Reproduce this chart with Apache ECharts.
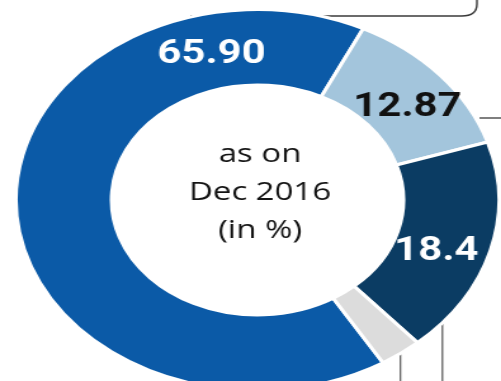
<!DOCTYPE html>
<html>
<head>
<meta charset="utf-8">
<script src="https://cdn.jsdelivr.net/npm/echarts@6/dist/echarts.min.js"></script>
<style>
  html, body { margin: 0; padding: 0; background: #ffffff; width: 501px; height: 381px; overflow: hidden; }
  /* the donut is drawn as a horizontally stretched ring */
  #chart { width: 395px; height: 381px; transform: scaleX(1.2684); transform-origin: 0 0; }
</style>
</head>
<body>
<div id="chart"></div>
<script>
// Shares as on Dec 2016 (in %)
const categories = ['Segment A', 'Segment B', 'Segment C', 'Segment D'];
const values = [65.90, 12.87, 18.4, 2.83];
const valueLabels = ['65.90', '12.87', '18.4', ''];

// styling
const sliceColors = ['#0b5aa7', '#a3c5dc', '#0b3c63', '#dcdcdc'];
const labelColors = ['#ffffff', '#111111', '#ffffff', '#ffffff'];
// where each value label sits on the ring, degrees clockwise from 12 o'clock
const labelAngles = [-14, 52, 110, 0];

const CX = 203, CY = 200, R_IN = 115, R_OUT = 190.5, R_LABEL = 150;

const chart = echarts.init(document.getElementById('chart'), null, { renderer: 'canvas' });

const frameStyle = { stroke: '#3a3a3a', lineWidth: 1.4, fill: null };
const leaderStyle = { stroke: '#555555', lineWidth: 1.2 };

chart.setOption({
  animation: false,
  backgroundColor: '#ffffff',
  series: [{
    type: 'pie',
    z: 2,
    silent: true,
    center: [CX, CY],
    radius: [R_IN, R_OUT],
    startAngle: 301.3,
    clockwise: true,
    avoidLabelOverlap: false,
    itemStyle: { borderColor: '#ffffff', borderWidth: 3 },
    label: {
      show: true,
      position: 'inside',
      fontFamily: 'Roboto',
      fontWeight: 'bold',
      fontSize: 33,
      formatter: p => valueLabels[p.dataIndex]
    },
    labelLine: { show: false },
    labelLayout: function (params) {
      const a = labelAngles[params.dataIndex] * Math.PI / 180;
      return {
        x: CX + R_LABEL * Math.sin(a),
        y: CY - R_LABEL * Math.cos(a),
        align: 'center',
        verticalAlign: 'middle'
      };
    },
    data: categories.map((name, i) => ({
      name: name,
      value: values[i],
      itemStyle: { color: sliceColors[i] },
      label: { color: labelColors[i], show: valueLabels[i] !== '' }
    }))
  }],
  graphic: [
    {
      type: 'text',
      z: 100,
      x: CX + 2,
      y: 193,
      style: {
        text: 'as on\nDec 2016\n(in %)',
        align: 'center',
        verticalAlign: 'middle',
        fill: '#141414',
        fontFamily: 'Open Sans',
        fontSize: 26,
        lineHeight: 38
      }
    },
    // frame of the box above the ring
    { type: 'line', z: 1, shape: { x1: 150, y1: 16, x2: 364, y2: 16 }, style: frameStyle },
    { type: 'bezierCurve', z: 1, shape: { x1: 364, y1: 16, cpx1: 376, cpy1: 16, x2: 376, y2: 4 }, style: frameStyle },
    { type: 'line', z: 1, shape: { x1: 376, y1: 4, x2: 376, y2: -6 }, style: frameStyle },
    // leader lines
    { type: 'line', z: 1, shape: { x1: 378, y1: 118, x2: 400, y2: 118 }, style: { stroke: '#555555', lineWidth: 1.5 } },
    { type: 'line', z: 1, shape: { x1: 315.7, y1: 352, x2: 315.7, y2: 390 }, style: leaderStyle },
    { type: 'line', z: 1, shape: { x1: 348.8, y1: 323, x2: 348.8, y2: 390 }, style: leaderStyle }
  ]
});
</script>
</body>
</html>
